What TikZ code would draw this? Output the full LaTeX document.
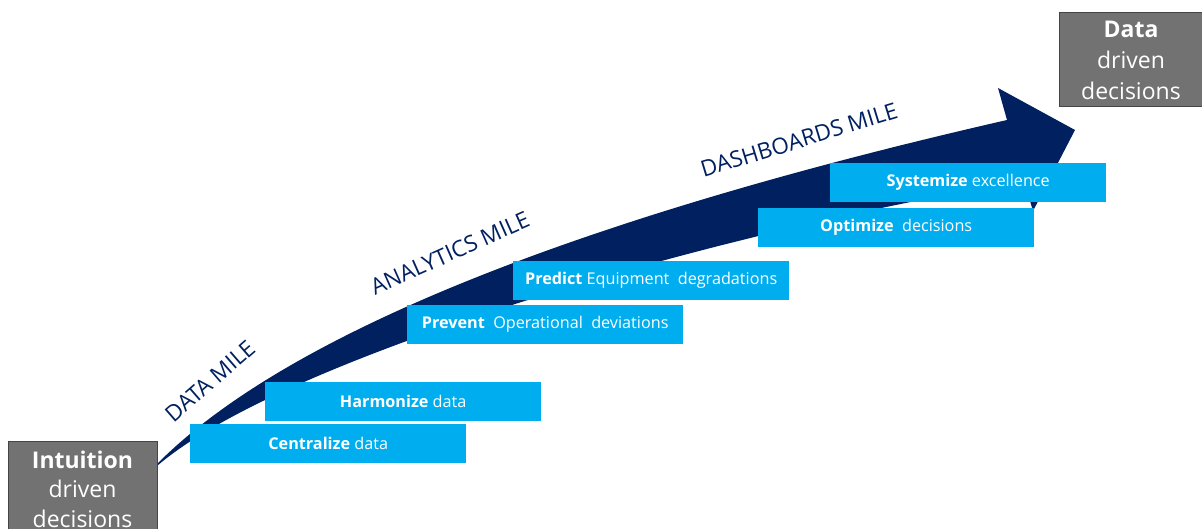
\documentclass[tikz,border=0pt]{standalone}
\usepackage{fontspec}
\setmainfont{Open Sans}
\definecolor{navy}{HTML}{002060}
\definecolor{skyblue}{HTML}{00AEEF}
\definecolor{boxgray}{HTML}{727272}
\definecolor{boxedge}{HTML}{454545}
\begin{document}
\begin{tikzpicture}[x=1pt,y=-1pt,
  graybox/.style={draw=boxedge, line width=1pt, fill=boxgray, anchor=north west, inner sep=0pt},
  graytext/.style={text=white, anchor=base, font=\fontsize{23}{26}\selectfont, inner sep=0pt},
  stepbox/.style={fill=skyblue, anchor=north west, inner sep=0pt, minimum width=276pt, minimum height=39pt},
  steptext/.style={text=white, font=\fontsize{16.2}{19}\selectfont, inner sep=0pt},
  mile/.style={text=navy, font=\fontsize{22.5}{26}\selectfont, inner sep=0pt}]
\useasboundingbox (0,0) rectangle (1202,528);

% rising arrow
\fill[navy] (157,464) .. controls (307,313) and (657,200) .. (1007,120)
  -- (998,88) -- (1075,130) -- (1033,211) -- (1024,181)
  .. controls (700,235) and (280,360) .. (157,466) -- cycle;

% start and end states
\node (start) [graybox, minimum width=149pt, minimum height=100pt] at (8,441) {};
\node (startA) [graytext] at (82.5,468) {\bfseries Intuition};
\node (startB) [graytext] at (82.5,497) {driven};
\node (startC) [graytext] at (82.5,527) {decisions};

\node (goal) [graybox, minimum width=143pt, minimum height=94pt] at (1059,12) {};
\node (goalA) [graytext] at (1131,37) {\bfseries Data};
\node (goalB) [graytext] at (1131,68) {driven};
\node (goalC) [graytext] at (1131,99) {decisions};

% steps
\node (s1) [stepbox] at (190,424) {};
\node [steptext] at (s1.center) {\bfseries Centralize\mdseries{} data};
\node (s2) [stepbox] at (265,382) {};
\node [steptext] at (s2.center) {\bfseries Harmonize\mdseries{} data};
\node (s3) [stepbox] at (407,305) {};
\node [steptext] at (s3.center) {\bfseries Prevent\mdseries{}\ \ Operational\ \ deviations};
\node (s4) [stepbox] at (513,261) {};
\node [steptext] at (s4.center) {\bfseries Predict\mdseries{} Equipment\ \ degradations};
\node (s5) [stepbox] at (758,208) {};
\node [steptext] at (s5.center) {\bfseries Optimize\mdseries{}\ \ decisions};
\node (s6) [stepbox] at (830,163) {};
\node [steptext] at (s6.center) {\bfseries Systemize\mdseries{} excellence};

% miles
\node (m1) [mile, rotate=41] at (210,381) {DATA MILE};
\node (m2) [mile, rotate=24] at (450,253) {ANALYTICS MILE};
\node (m3) [mile, rotate=17] at (799,140) {DASHBOARDS MILE};
\end{tikzpicture}
\end{document}
